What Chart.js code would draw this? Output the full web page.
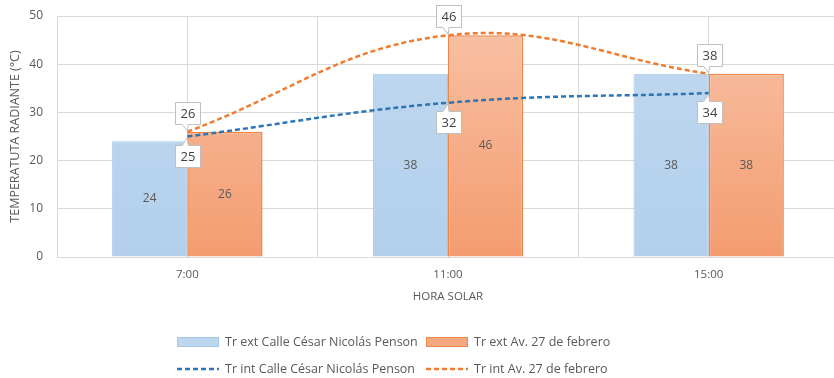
<!DOCTYPE html>
<html>
<head>
<meta charset="utf-8">
<script src="https://cdn.jsdelivr.net/npm/chart.js@4/dist/chart.umd.min.js"></script>
<style>
  html, body { margin: 0; padding: 0; background: #fff; overflow: hidden; }
  #wrap { position: relative; width: 842px; height: 378px; }
</style>
</head>
<body>
<div id="wrap"><canvas id="chart"></canvas></div>
<script>
// Radiant temperature readings by solar hour
const horas = ['7:00', '11:00', '15:00'];
const trExtPenson = [24, 38, 38];
const trExtFebrero = [26, 46, 38];
const trIntPenson = [25, 32, 34];
const trIntFebrero = [26, 46, 38];
const yTicks = [0, 10, 20, 30, 40, 50];
const seriesNames = [
  'Tr ext Calle César Nicolás Penson',
  'Tr ext Av. 27 de febrero',
  'Tr int Calle César Nicolás Penson',
  'Tr int Av. 27 de febrero'
];

const FONT = '"Open Sans", Lato, sans-serif';
const TEXT = '#595959';
const GRID = '#d9d9d9';

function barGradient(top, bottom) {
  return (ctx) => {
    const area = ctx.chart.chartArea;
    if (!area) return top;
    const g = ctx.chart.ctx.createLinearGradient(0, area.top, 0, area.bottom);
    g.addColorStop(0, top);
    g.addColorStop(1, bottom);
    return g;
  };
}

// Values written in the middle of each bar
const barLabels = {
  id: 'barLabels',
  afterDatasetsDraw(chart) {
    const ctx = chart.ctx;
    chart.data.datasets.forEach((ds, i) => {
      if (ds.type !== 'bar') return;
      chart.getDatasetMeta(i).data.forEach((bar, j) => {
        ctx.save();
        ctx.fillStyle = TEXT;
        ctx.font = '12px ' + FONT;
        ctx.textAlign = 'center';
        ctx.textBaseline = 'middle';
        ctx.fillText(String(ds.data[j]), bar.x, (bar.y + bar.base) / 2);
        ctx.restore();
      });
    });
  }
};

// Boxed callouts on the line points
const callouts = {
  id: 'callouts',
  afterDatasetsDraw(chart) {
    const ctx = chart.ctx;
    chart.data.datasets.forEach((ds, i) => {
      if (ds.type !== 'line') return;
      const above = ds.calloutSide === 'above';
      chart.getDatasetMeta(i).data.forEach((pt, j) => {
        const w = 25, h = 22, gap = 8;
        const left = Math.round(pt.x) - 11.5, right = left + w;
        const top = above ? Math.round(pt.y - gap - h) + 0.5 : Math.round(pt.y + gap) + 0.5;
        const bottom = top + h;
        ctx.save();
        ctx.beginPath();
        if (above) {
          ctx.moveTo(left, top);
          ctx.lineTo(right, top);
          ctx.lineTo(right, bottom);
          ctx.lineTo(pt.x + 1, bottom);
          ctx.lineTo(pt.x, pt.y - 1);
          ctx.lineTo(pt.x - 5, bottom);
          ctx.lineTo(left, bottom);
        } else {
          ctx.moveTo(left, top);
          ctx.lineTo(pt.x - 5, top);
          ctx.lineTo(pt.x, pt.y + 1);
          ctx.lineTo(pt.x + 1, top);
          ctx.lineTo(right, top);
          ctx.lineTo(right, bottom);
          ctx.lineTo(left, bottom);
        }
        ctx.closePath();
        ctx.fillStyle = '#ffffff';
        ctx.fill();
        ctx.strokeStyle = '#bfbfbf';
        ctx.lineWidth = 1;
        ctx.stroke();
        ctx.fillStyle = '#404040';
        ctx.font = '13px ' + FONT;
        ctx.textAlign = 'center';
        ctx.textBaseline = 'middle';
        ctx.fillText(String(ds.data[j]), (left + right) / 2, (top + bottom) / 2 + 1);
        ctx.restore();
      });
    });
  }
};

// Two-row legend under the axis title
const twoRowLegend = {
  id: 'twoRowLegend',
  afterDraw(chart) {
    const ctx = chart.ctx;
    const cols = [177, 426];
    const rows = [342, 369];
    chart.data.datasets.forEach((ds, i) => {
      const x = cols[i % 2], y = rows[Math.floor(i / 2)];
      ctx.save();
      if (ds.type === 'line') {
        ctx.strokeStyle = ds.borderColor;
        ctx.lineWidth = 2.5;
        ctx.setLineDash([5, 3]);
        ctx.beginPath();
        ctx.moveTo(x, y);
        ctx.lineTo(x + 42, y);
        ctx.stroke();
        ctx.setLineDash([]);
      } else {
        ctx.fillStyle = ds.legendFill;
        ctx.fillRect(x, y - 5, 42, 10);
        ctx.strokeStyle = ds.borderColor;
        ctx.lineWidth = 1;
        ctx.strokeRect(x + 0.5, y - 4.5, 41, 9);
      }
      ctx.fillStyle = TEXT;
      ctx.font = '12.5px ' + FONT;
      ctx.textAlign = 'left';
      ctx.textBaseline = 'middle';
      ctx.fillText(ds.label, x + 48, y);
      ctx.restore();
    });
  }
};

new Chart(document.getElementById('chart'), {
  data: {
    labels: horas,
    datasets: [
      {
        type: 'bar', label: seriesNames[0], data: trExtPenson, xAxisID: 'x', yAxisID: 'y',
        backgroundColor: barGradient('#c0d9f0', '#b3cfeb'), legendFill: '#bcd6ee',
        borderColor: '#a5c6e8', borderWidth: 1, order: 2,
        barPercentage: 1, categoryPercentage: 0.577
      },
      {
        type: 'bar', label: seriesNames[1], data: trExtFebrero, xAxisID: 'x', yAxisID: 'y',
        backgroundColor: barGradient('#f8c2a6', '#f49c70'), legendFill: '#f4a880',
        borderColor: '#ee8647', borderWidth: 1.5, order: 2,
        barPercentage: 1, categoryPercentage: 0.577
      },
      {
        type: 'line', label: seriesNames[2], data: trIntPenson, xAxisID: 'x', yAxisID: 'y',
        borderColor: '#2e75b6', borderWidth: 2.5, borderDash: [5, 3], tension: 0.4,
        pointRadius: 0, fill: false, order: 1, calloutSide: 'below'
      },
      {
        type: 'line', label: seriesNames[3], data: trIntFebrero, xAxisID: 'x', yAxisID: 'y',
        borderColor: '#ed7d31', borderWidth: 2.5, borderDash: [5, 3], tension: 0.4,
        pointRadius: 0, fill: false, order: 0, calloutSide: 'above'
      }
    ]
  },
  options: {
    responsive: true,
    maintainAspectRatio: false,
    animation: false,
    layout: { padding: { left: 0, right: 3, top: 16, bottom: 68 } },
    plugins: { legend: { display: false }, tooltip: { enabled: false } },
    scales: {
      x: {
        type: 'category', position: 'bottom', offset: true,
        grid: { display: false, drawTicks: false },
        border: { display: false },
        ticks: { color: TEXT, font: { family: FONT, size: 11.5 }, padding: 11 },
        title: { display: true, text: 'HORA SOLAR', color: TEXT, font: { family: FONT, size: 11.5 }, padding: { top: 0, bottom: 6 } },
        afterFit(s) { s.height = 53; }
      },
      xGrid: {
        type: 'linear', position: 'bottom', min: -0.5, max: 2.5,
        ticks: { display: false, stepSize: 0.5 },
        grid: { color: GRID, lineWidth: 1, drawTicks: false },
        border: { display: false },
        afterFit(s) { s.height = 0; }
      },
      y: {
        type: 'linear', min: yTicks[0], max: yTicks[yTicks.length - 1],
        afterBuildTicks(s) { s.ticks = yTicks.map(v => ({ value: v })); },
        ticks: { color: TEXT, font: { family: FONT, size: 12 }, padding: 14 },
        grid: { color: GRID, lineWidth: 1, drawTicks: false },
        border: { display: false },
        title: { display: true, text: 'TEMPERATUTA RADIANTE (°C)', color: TEXT, font: { family: FONT, size: 12.5 }, padding: { top: 8, bottom: 0 } },
        afterFit(s) { s.width = 57; s.paddingTop = 0; s.paddingBottom = 0; }
      }
    }
  },
  plugins: [barLabels, callouts, twoRowLegend]
});
</script>
</body>
</html>
